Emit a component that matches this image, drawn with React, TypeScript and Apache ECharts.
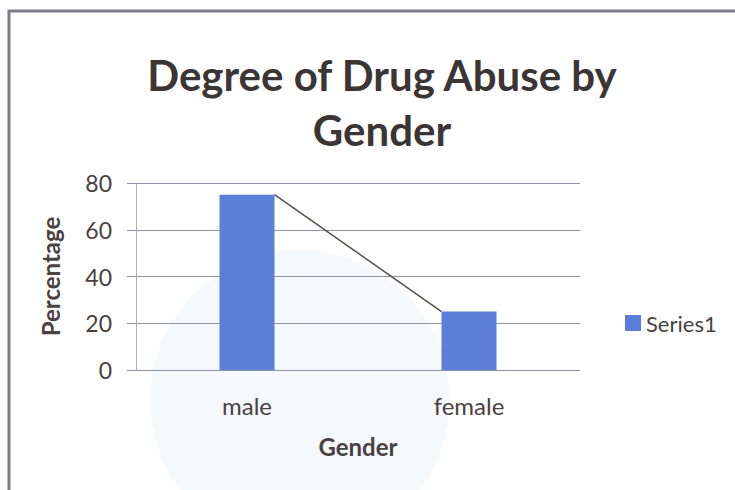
import React, { useEffect, useRef } from "react";
import * as echarts from "echarts";

const titleText = "Degree of Drug Abuse by\nGender";
const categories = ["male", "female"];
const seriesName = "Series1";
const values = [75, 25];
const yTicks = { min: 0, max: 80, interval: 20 };
const xAxisName = "Gender";
const yAxisName = "Percentage";

const FONT = "Lato, 'Open Sans', 'Noto Sans', sans-serif";
const TEXT = "#4a4141";
const BAR = "#5b7fd9";
const BAR_W = 55;

export default function App() {
  const ref = useRef<HTMLDivElement>(null);
  useEffect(() => {
    if (!ref.current) return;
    const chart = echarts.init(ref.current, undefined, { renderer: "svg" });
    const links: number[][] = [];
    for (let i = 0; i < values.length - 1; i++) {
      links.push([i, values[i], i + 1, values[i + 1]]);
    }
    chart.setOption({
      animation: false,
      backgroundColor: "#ffffff",
      graphic: [
        {
          type: "circle",
          z: -10,
          silent: true,
          shape: { cx: 300, cy: 400, r: 150 },
          style: { fill: "#f5f9fc" },
        },
        {
          type: "rect",
          z: 100,
          silent: true,
          shape: { x: 9, y: 11, width: 740, height: 490 },
          style: { fill: "none", stroke: "#7b7b86", lineWidth: 3 },
        },
      ],
      title: {
        text: titleText,
        left: 377,
        textAlign: "center",
        top: 42,
        textStyle: {
          fontFamily: FONT,
          fontWeight: "bold",
          fontSize: 42,
          lineHeight: 55,
          color: "#3b3535",
        },
      },
      legend: {
        data: [seriesName],
        left: 620,
        top: 307,
        icon: "rect",
        itemWidth: 16,
        itemHeight: 16,
        textStyle: { fontFamily: FONT, fontSize: 22, color: TEXT },
      },
      grid: { left: 136, right: 155, top: 183, bottom: 120 },
      xAxis: {
        type: "category",
        data: categories,
        name: xAxisName,
        nameLocation: "middle",
        nameGap: 64,
        nameTextStyle: { fontFamily: FONT, fontWeight: "bold", fontSize: 24, color: TEXT },
        axisLine: { show: true, lineStyle: { color: "#8c93a5", width: 1 } },
        axisTick: { show: false },
        axisLabel: { fontFamily: FONT, fontSize: 24, color: TEXT, margin: 23 },
      },
      yAxis: {
        type: "value",
        min: yTicks.min,
        max: yTicks.max,
        interval: yTicks.interval,
        name: yAxisName,
        nameLocation: "middle",
        nameRotate: 90,
        nameGap: 74,
        nameTextStyle: { fontFamily: FONT, fontWeight: "bold", fontSize: 24, color: TEXT },
        axisLine: { show: true, lineStyle: { color: "#a4abc4", width: 1 } },
        axisTick: { show: true, length: 9, lineStyle: { color: "#8c93a5" } },
        axisLabel: { fontFamily: FONT, fontSize: 23, color: TEXT, margin: 24 },
        splitLine: { show: true, lineStyle: { color: "#8c93a5", width: 1 } },
      },
      series: [
        {
          name: seriesName,
          type: "bar",
          data: values,
          barWidth: BAR_W,
          itemStyle: { color: BAR },
        },
        {
          name: "links",
          type: "custom",
          data: links,
          z: 5,
          renderItem: (params: any, api: any) => {
            const a = api.coord([api.value(0), api.value(1)]);
            const b = api.coord([api.value(2), api.value(3)]);
            return {
              type: "line",
              shape: { x1: a[0] + BAR_W / 2, y1: a[1], x2: b[0] - BAR_W / 2, y2: b[1] },
              style: { stroke: "#5a4d4d", lineWidth: 1.5 },
            };
          },
        },
      ],
    });
    return () => chart.dispose();
  }, []);
  return <div ref={ref} style={{ width: 735, height: 490, position: "absolute", left: 0, top: 0 }} />;
}
